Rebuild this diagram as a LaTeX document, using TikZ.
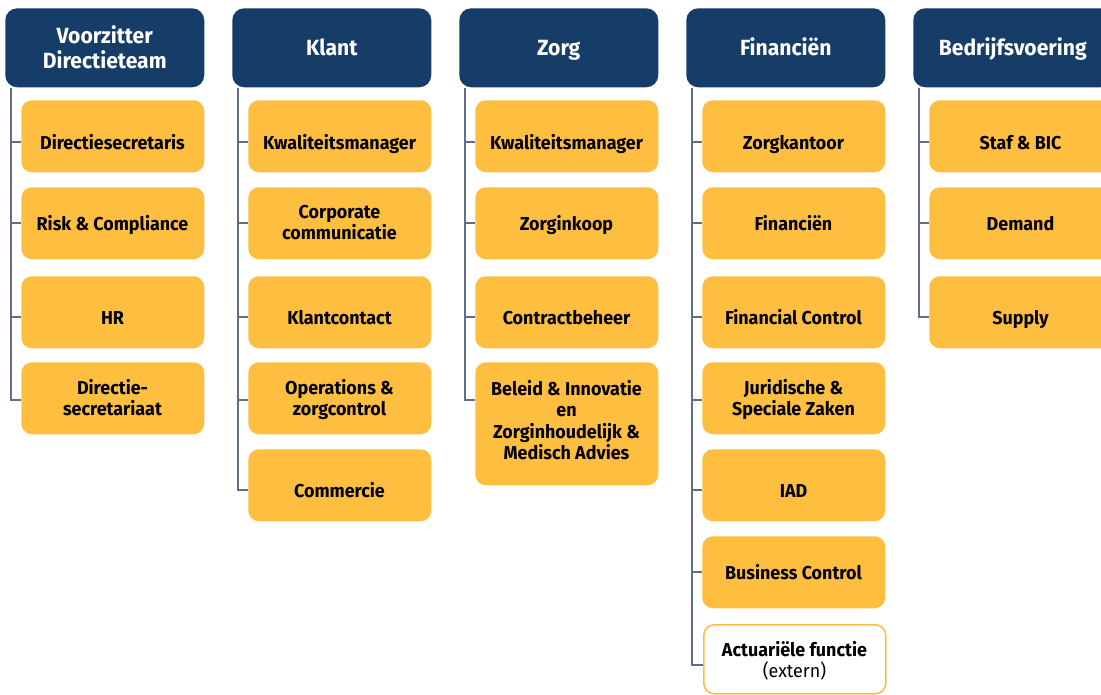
\documentclass[tikz,border=0pt]{standalone}
\usepackage{fontspec}
\setmainfont{Fira Sans}[FakeStretch=0.96]
\definecolor{navy}{RGB}{21,61,104}
\definecolor{gold}{RGB}{254,190,64}
\definecolor{linec}{RGB}{96,110,135}
\tikzset{
  headbase/.style={fill=navy, rounded corners=9pt, minimum width=199*0.75pt, minimum height=79*0.75pt,
    text=white, font=\fontsize{16.5}{18.75}\selectfont\bfseries, align=center, inner sep=0pt, anchor=north west},
  head/.style={headbase, execute at begin node={\rule{0pt}{17.6pt}}, execute at end node=\strut},
  unit/.style={fill=gold, rounded corners=8pt, minimum width=183*0.75pt, minimum height=72*0.75pt,
    inner sep=0pt, anchor=north west},
  ext/.style={unit, fill=white, draw=gold, line width=1.2pt},
  lbl/.style={text=black, font=\fontsize{14}{15.75}\selectfont\bfseries, align=center, inner sep=0pt,
    yshift=-2.25pt, execute at begin node=\strut, execute at end node=\strut},
  conn/.style={draw=linec, line width=0.8pt},
}
% name, x, ytop, text y, connector y, text
\newcommand\ubox[6]{%
  \node[unit] (#1) at (#2,#3) {};
  \node[lbl] (#1t) at (#2+91.5,#4) {#6};
  \coordinate (#1c) at (#2,#5);
}
\begin{document}
\begin{tikzpicture}[x=0.75pt,y=-0.75pt]
\useasboundingbox (0,0) rectangle (1101,695);
% headers
\node[headbase] (h1) at (5,8) {Voorzitter\\Directieteam};
\node[head] (h2) at (232,8) {Klant};
\node[head] (h3) at (459,8) {Zorg};
\node[head] (h4) at (686,8) {Financiën};
\node[head] (h5) at (913,8) {Bedrijfsvoering};
% column 1
\ubox{a1}{21}{100}{142}{142}{Directiesecretaris}
\ubox{a2}{21}{187}{223}{223}{Risk \& Compliance}
\ubox{a3}{21}{276}{317}{317}{HR}
\ubox{a4}{21}{362}{398}{400}{Directie-\\secretariaat}
% column 2
\ubox{b1}{248}{100}{142}{142}{Kwaliteitsmanager}
\ubox{b2}{248}{187}{223}{223}{Corporate\\communicatie}
\ubox{b3}{248}{276}{317}{317}{Klantcontact}
\ubox{b4}{248}{362}{398}{400}{Operations \&\\zorgcontrol}
\ubox{b5}{248}{449}{490}{490}{Commercie}
% column 3
\ubox{c1}{475}{100}{142}{142}{Kwaliteitsmanager}
\ubox{c2}{475}{187}{223}{223}{Zorginkoop}
\ubox{c3}{475}{276}{317}{317}{Contractbeheer}
\node[unit, minimum height=123*0.75pt] (c4) at (475,362) {};
\node[lbl, font=\fontsize{14}{16.1}\selectfont\bfseries] (c4t) at (475+91.5,420) {Beleid \& Innovatie\\en\\Zorginhoudelijk \&\\Medisch Advies};
\coordinate (c4c) at (475,400);
% column 4
\ubox{d1}{702}{100}{142}{142}{Zorgkantoor}
\ubox{d2}{702}{187}{223}{223}{Financiën}
\ubox{d3}{702}{276}{317}{317}{Financial Control}
\ubox{d4}{702}{362}{398}{400}{Juridische \&\\Speciale Zaken}
\ubox{d5}{702}{449}{490}{490}{IAD}
\ubox{d6}{702}{536}{572}{572}{Business Control}
\node[ext, minimum width=182*0.75pt, minimum height=69*0.75pt] (d7) at (703,624) {};
\node[lbl] (d7t) at (703+91.5,659.5) {Actuariële functie\\{\mdseries (extern)}};
\coordinate (d7c) at (703,665);
% column 5
\ubox{e1}{929}{100}{142}{142}{Staf \& BIC}
\ubox{e2}{929}{187}{223}{223}{Demand}
\ubox{e3}{929}{276}{317}{317}{Supply}
% connectors
\foreach \h/\lst/\last in {h1/{a1,a2,a3}/a4, h2/{b1,b2,b3,b4}/b5, h3/{c1,c2,c3}/c4, h4/{d1,d2,d3,d4,d5,d6}/d7, h5/{e1,e2}/e3}{
  \coordinate (\h-top) at ([xshift=6*0.75pt]\h.south west);
  \draw[conn] (\h-top) |- (\last c);
  \foreach \u in \lst { \draw[conn] (\h-top |- \u c) -- (\u c); }
}
\end{tikzpicture}
\end{document}
